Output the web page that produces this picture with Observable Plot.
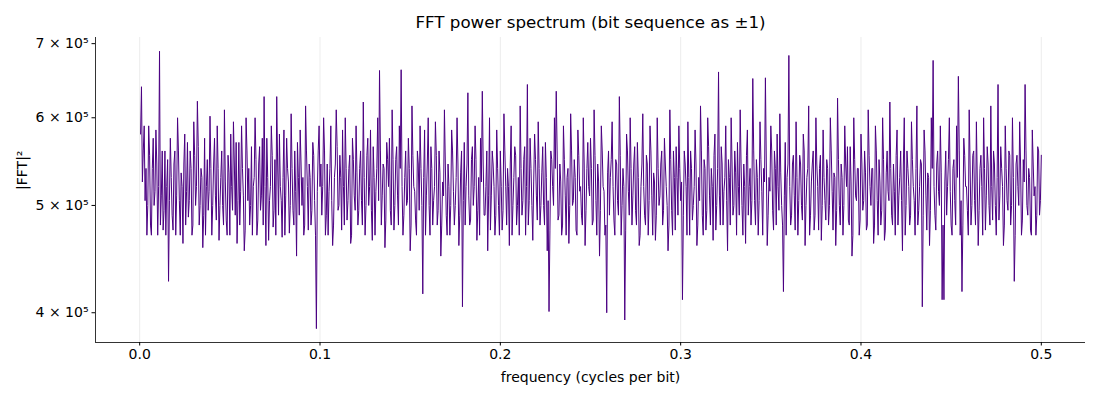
<!DOCTYPE html>
<html>
<head>
<meta charset="utf-8">
<script src="https://cdn.jsdelivr.net/npm/d3@7"></script>
<script src="https://cdn.jsdelivr.net/npm/@observablehq/plot@0.6"></script>
<style>
  body { margin: 0; background: #fff; }
  #chart svg { font-family: "DejaVu Sans", sans-serif; color: #000; }
</style>
</head>
<body>
<div id="chart"></div>
<script>
const titleText = "FFT power spectrum (bit sequence as ±1)";
const xLabel = "frequency (cycles per bit)";
const yLabel = "|FFT|²";
const xStep = 0.0005; // frequency spacing (cycles per bit)
const xTicks = [0, 0.1, 0.2, 0.3, 0.4, 0.5];
const yTicks = [400000, 500000, 600000, 700000];
const yTickLabels = ["4 × 10⁵", "5 × 10⁵", "6 × 10⁵", "7 × 10⁵"];
const xDomain = [-0.0245, 0.5245];
const yDomain = [376000, 709000];
// power values in thousands, one per frequency bin (0.0005 .. 0.5)
const powerK = [
  580,640,525,560,590,505,540,470,500,590,555,480,470,540,575,500,515,585,545,470,520,689,480,510,560,475,495,560,470,520,550,427,505,575,530,490,475,545,560,470,
  510,600,560,505,470,535,520,462,545,580,480,515,570,488,505,560,540,470,480,595,555,500,520,621,565,480,500,540,530,458,490,575,470,520,550,495,515,602,540,470,
  500,545,575,510,485,590,540,465,500,530,560,500,480,610,525,485,470,555,535,470,580,520,495,595,545,490,570,462,505,570,480,515,590,540,510,455,475,600,560,505,
  540,480,500,565,470,520,530,600,550,470,485,545,565,495,510,575,480,627,520,460,575,530,465,505,520,590,555,478,495,550,470,627,545,490,580,520,505,468,530,585,
  470,510,575,540,525,472,500,605,540,495,480,560,515,450,570,530,490,585,545,500,530,470,480,615,560,520,475,545,530,480,495,570,555,505,470,387,515,560,590,520,
  545,490,520,600,560,470,490,545,470,515,540,590,505,460,480,530,545,610,565,495,500,555,530,475,585,520,480,600,540,485,505,540,555,462,470,575,550,510,495,590,
  535,480,495,540,560,505,480,620,530,470,500,555,575,500,520,585,495,465,565,530,470,515,540,600,505,662,560,480,510,545,540,458,485,570,550,520,575,495,480,610,
  550,475,500,550,565,510,480,590,540,663,520,470,490,530,560,500,505,575,540,455,480,615,555,520,515,485,470,560,545,495,590,540,500,416,530,585,470,510,545,600,
  500,470,565,540,480,505,520,595,555,480,495,560,535,450,480,525,510,610,545,490,470,545,520,470,500,585,560,515,480,500,530,600,545,460,490,535,560,405,505,570,
  480,520,545,632,510,480,485,550,565,500,520,590,550,465,495,530,470,575,525,634,545,490,490,520,560,455,510,600,475,510,560,545,520,470,490,585,540,500,470,560,
  520,475,495,605,560,520,480,540,520,460,545,590,470,500,530,565,555,480,500,530,470,615,540,490,505,550,565,470,520,643,480,505,575,540,500,465,525,580,550,510,
  485,595,540,480,500,535,565,500,480,570,530,455,505,401,475,560,550,520,500,600,540,634,560,485,490,545,525,470,480,590,550,510,470,530,540,462,500,605,560,500,
  505,550,530,475,470,585,555,515,520,490,480,600,545,460,495,540,570,520,510,575,540,480,485,610,555,505,470,545,525,450,495,590,560,520,515,470,480,400,535,560,
  490,530,550,595,520,485,470,550,545,505,490,627,555,470,500,540,520,394,475,580,560,515,490,600,540,480,510,545,565,495,480,570,530,460,470,520,545,605,520,490,
  480,555,545,470,505,590,560,510,470,535,525,465,490,600,540,500,510,545,560,480,495,575,545,520,500,455,480,610,550,495,470,560,530,475,565,530,490,590,540,505,
  525,411,490,560,545,520,470,595,530,470,560,540,485,500,520,585,545,460,480,530,505,615,560,490,470,550,540,475,495,600,565,510,480,540,520,465,555,580,475,500,
  540,660,510,480,565,545,480,515,530,590,505,455,550,530,480,600,545,490,500,560,535,470,570,520,490,610,545,500,470,545,520,462,555,585,490,520,540,480,505,651,
  560,505,480,550,530,470,505,595,550,515,470,540,525,652,545,460,490,530,515,590,560,495,475,560,540,480,580,520,495,605,535,500,480,418,510,570,470,530,545,683,
  520,480,490,545,555,510,475,595,530,470,505,555,545,500,485,580,560,460,500,530,540,615,470,490,525,545,560,475,490,600,545,520,475,540,555,465,500,585,530,505,
  485,550,540,480,500,600,560,515,475,535,530,460,495,625,550,500,480,545,530,470,500,590,545,520,565,485,480,565,525,450,470,600,550,510,505,540,540,470,485,580,
  545,495,505,560,535,475,480,610,555,520,500,540,540,462,480,590,560,505,470,550,525,480,495,600,550,465,475,535,560,515,505,620,540,490,480,545,515,470,555,585,
  480,510,530,560,505,455,545,600,470,500,560,540,520,480,490,595,550,520,505,470,540,615,480,495,520,550,545,405,490,585,560,510,475,535,530,460,495,600,540,676,
  520,490,475,545,560,515,500,590,535,411,480,411,525,560,490,520,550,600,515,480,470,540,550,505,480,590,530,654,560,470,505,418,480,575,555,520,520,495,470,610,
  545,480,500,555,560,505,480,595,525,460,495,540,555,520,470,600,540,475,510,565,545,500,480,615,520,485,560,545,500,470,530,643,485,510,565,540,520,460,480,590,
  540,505,495,560,555,480,500,600,530,427,470,545,555,520,500,595,545,470,485,550,525,643,560,500,490,540,530,475,470,585,545,510,520,470,490,565,560,490,505,555
];

const data = powerK.map((v, i) => ({f: (i + 1) * xStep, p: v * 1000}));

const chart = Plot.plot({
  width: 1100,
  height: 400,
  marginLeft: 95,
  marginRight: 15,
  marginTop: 37,
  marginBottom: 58,
  style: {fontFamily: "DejaVu Sans, sans-serif", fontSize: "14px", color: "#000", background: "#fff"},
  x: {domain: xDomain},
  y: {type: "log", domain: yDomain},
  marks: [
    Plot.gridX({ticks: xTicks, stroke: "#b0b0b0", strokeOpacity: 0.3, strokeWidth: 0.8}),
    Plot.lineY(data, {x: "f", y: "p", stroke: "#4b0082", strokeWidth: 1}),
    Plot.ruleX([xDomain[0]], {stroke: "#000", strokeWidth: 0.8}),
    Plot.ruleY([yDomain[0]], {stroke: "#000", strokeWidth: 0.8}),
    Plot.axisX({ticks: xTicks, tickFormat: d => d.toFixed(1), tickSize: 3.5, tickPadding: 3.5, label: null, fontSize: 14}),
    Plot.axisY({ticks: yTicks, tickFormat: d => yTickLabels[yTicks.indexOf(d)], tickSize: 3.5, tickPadding: 3.5, label: null, fontSize: 14}),
    Plot.text([titleText], {frameAnchor: "top", dy: -15, fontSize: 16.7, lineAnchor: "middle"}),
    Plot.text([xLabel], {frameAnchor: "bottom", dy: 35, fontSize: 14, lineAnchor: "middle"}),
    Plot.text([yLabel], {frameAnchor: "left", dx: -73, rotate: -90, fontSize: 14, lineAnchor: "middle"})
  ]
});
document.getElementById("chart").appendChild(chart);
</script>
</body>
</html>
